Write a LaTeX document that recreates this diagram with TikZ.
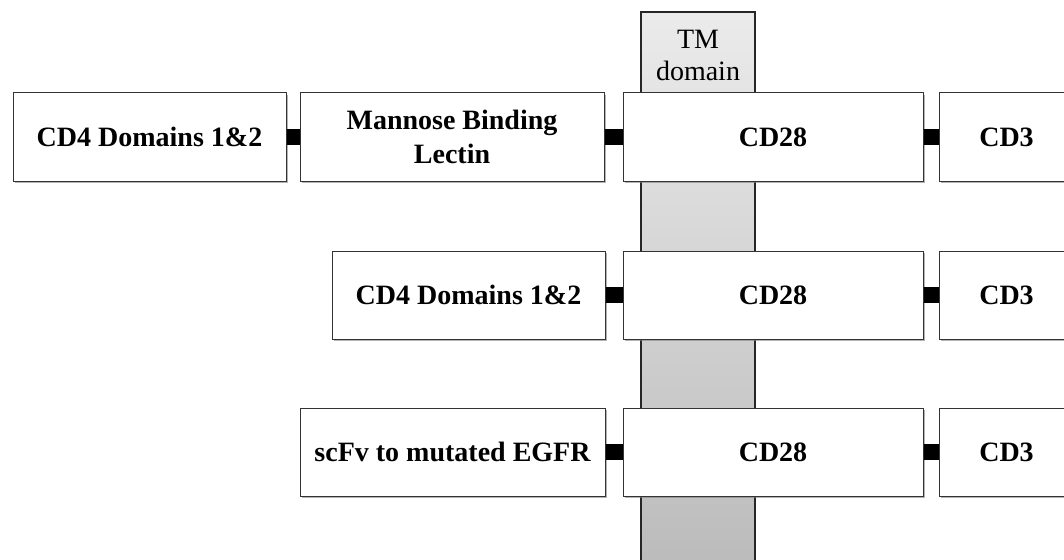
\documentclass[tikz,border=0pt]{standalone}
\usepackage{fontspec}
\setmainfont{Liberation Serif}
\usepackage{tikz}
\usetikzlibrary{shadows}
\definecolor{tmtop}{HTML}{EBEBEB}
\definecolor{tmbottom}{HTML}{B9B9B9}
\tikzstyle{part} = [rectangle, draw=black!80, line width=0.75pt, fill=white, minimum height=66pt, inner sep=0pt, align=center, font=\fontsize{21}{25}\selectfont\bfseries, drop shadow={shadow xshift=1.2pt, shadow yshift=-1.2pt, fill=black!50, opacity=0.6}]
\tikzstyle{link} = [-, line width=12pt, draw=black]

\begin{document}
\begin{tikzpicture}[x=0.75pt, y=-0.75pt]
\useasboundingbox (0,0) rectangle (1064,560);
\clip (0,0) rectangle (1064,560);
\draw [top color=tmtop, bottom color=tmbottom, draw=black!85, line width=1.1pt] (641,12) rectangle (755,590);
\node [align=center, font=\fontsize{21}{24}\selectfont] (TM) at (698,55) {TM\\domain};
\node [part, minimum width=204.75pt] (CD4a) at (149.5,137) {CD4 Domains 1\&2};
\node [part, minimum width=228pt] (MBL) at (452,137) {Mannose Binding\\Lectin};
\node [part, minimum width=225pt] (CD28a) at (773,137) {CD28};
\node [part, minimum width=101pt] (CD3a) at (1006.5,137) {CD3};
\node [part, minimum width=204.75pt] (CD4b) at (468.5,295) {CD4 Domains 1\&2};
\node [part, minimum width=225pt] (CD28b) at (773,295) {CD28};
\node [part, minimum width=101pt] (CD3b) at (1006.5,295) {CD3};
\node [part, minimum width=228.75pt] (scFv) at (452.5,452) {scFv to mutated EGFR};
\node [part, minimum width=225pt] (CD28c) at (773,452) {CD28};
\node [part, minimum width=101pt] (CD3c) at (1006.5,452) {CD3};
\draw [link] (CD4a) -- (MBL);
\draw [link] (MBL) -- (CD28a);
\draw [link] (CD28a) -- (CD3a);
\draw [link] (CD4b) -- (CD28b);
\draw [link] (CD28b) -- (CD3b);
\draw [link] (scFv) -- (CD28c);
\draw [link] (CD28c) -- (CD3c);
\end{tikzpicture}
\end{document}
